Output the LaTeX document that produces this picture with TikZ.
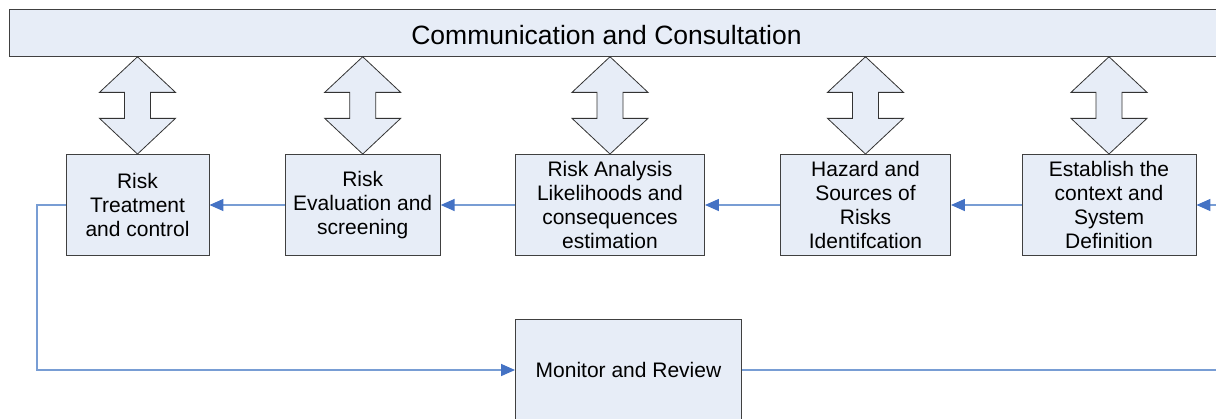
\documentclass[tikz,border=0pt]{standalone}
\usepackage{fontspec}
\setmainfont{Liberation Sans}
\usetikzlibrary{arrows.meta}
\tikzset{box/.style = {draw = black!75, fill = mfill, line width = 0.9pt, minimum height = 101pt, align = center, inner sep = 0pt, font = \fontsize{21}{24}\selectfont}}
\tikzset{flow/.style = {mline, line width = 1.5pt, -{Triangle[length = 14pt, width = 12pt, color = mhead]}}}
\tikzset{dbl/.style = {draw = black!80, fill = mfill, line width = 0.8pt, line join = miter}}
\definecolor{mfill}{RGB}{231, 237, 247}
\definecolor{mline}{RGB}{120, 157, 212}
\definecolor{mhead}{RGB}{68, 114, 196}

\begin{document}
\begin{tikzpicture}[x = 1pt, y = -1pt]
      \useasboundingbox (0, 0) rectangle (1216, 418);

      \node [box, minimum width = 1216pt, minimum height = 46.5pt] (comm) at (617, 32.75) {};
      \node [font = \fontsize{26.5}{30}\selectfont] (commtext) at (606.5, 35.5) {Communication and Consultation};

      \node [box, minimum width = 143pt] (treat) at (137.5, 205) {Risk\\Treatment\\and control};
      \node [box, minimum width = 155pt] (eval) at (362.7, 205) {Risk\\Evaluation and\\screening};
      \node [box, minimum width = 189pt] (anal) at (610, 205) {Risk Analysis\\Likelihoods and\\consequences\\estimation};
      \node [box, minimum width = 170pt] (hazard) at (865.5, 205) {Hazard and\\Sources of\\Risks\\Identifcation};
      \node [box, minimum width = 174pt] (context) at (1109, 205) {Establish the\\context and\\System\\Definition};
      \node [box, minimum width = 226pt, minimum height = 102pt] (monitor) at (628.5, 370) {Monitor and Review};

      \foreach \b in {treat, eval, anal, hazard, context}
        \draw [dbl, shift = {(\b.north)}] (0, 0) -- (-38, -35.7) -- (-13, -35.7) -- (-13, -61.7) -- (-38, -61.7) -- (0, -97.3) -- (38, -61.7) -- (13, -61.7) -- (13, -35.7) -- (38, -35.7) -- cycle;

      \draw [flow] (context) -- (hazard);
      \draw [flow] (hazard) -- (anal);
      \draw [flow] (anal) -- (eval);
      \draw [flow] (eval) -- (treat);

      \coordinate (loopl) at (37, 0);
      \coordinate (loopr) at (1225, 0);
      \draw [flow] (treat) -- (treat -| loopl) -- (loopl |- monitor) -- (monitor);
      \draw [flow] (monitor) -- (monitor -| loopr) -- (loopr |- context) -- (context);
    \end{tikzpicture}
\end{document}
